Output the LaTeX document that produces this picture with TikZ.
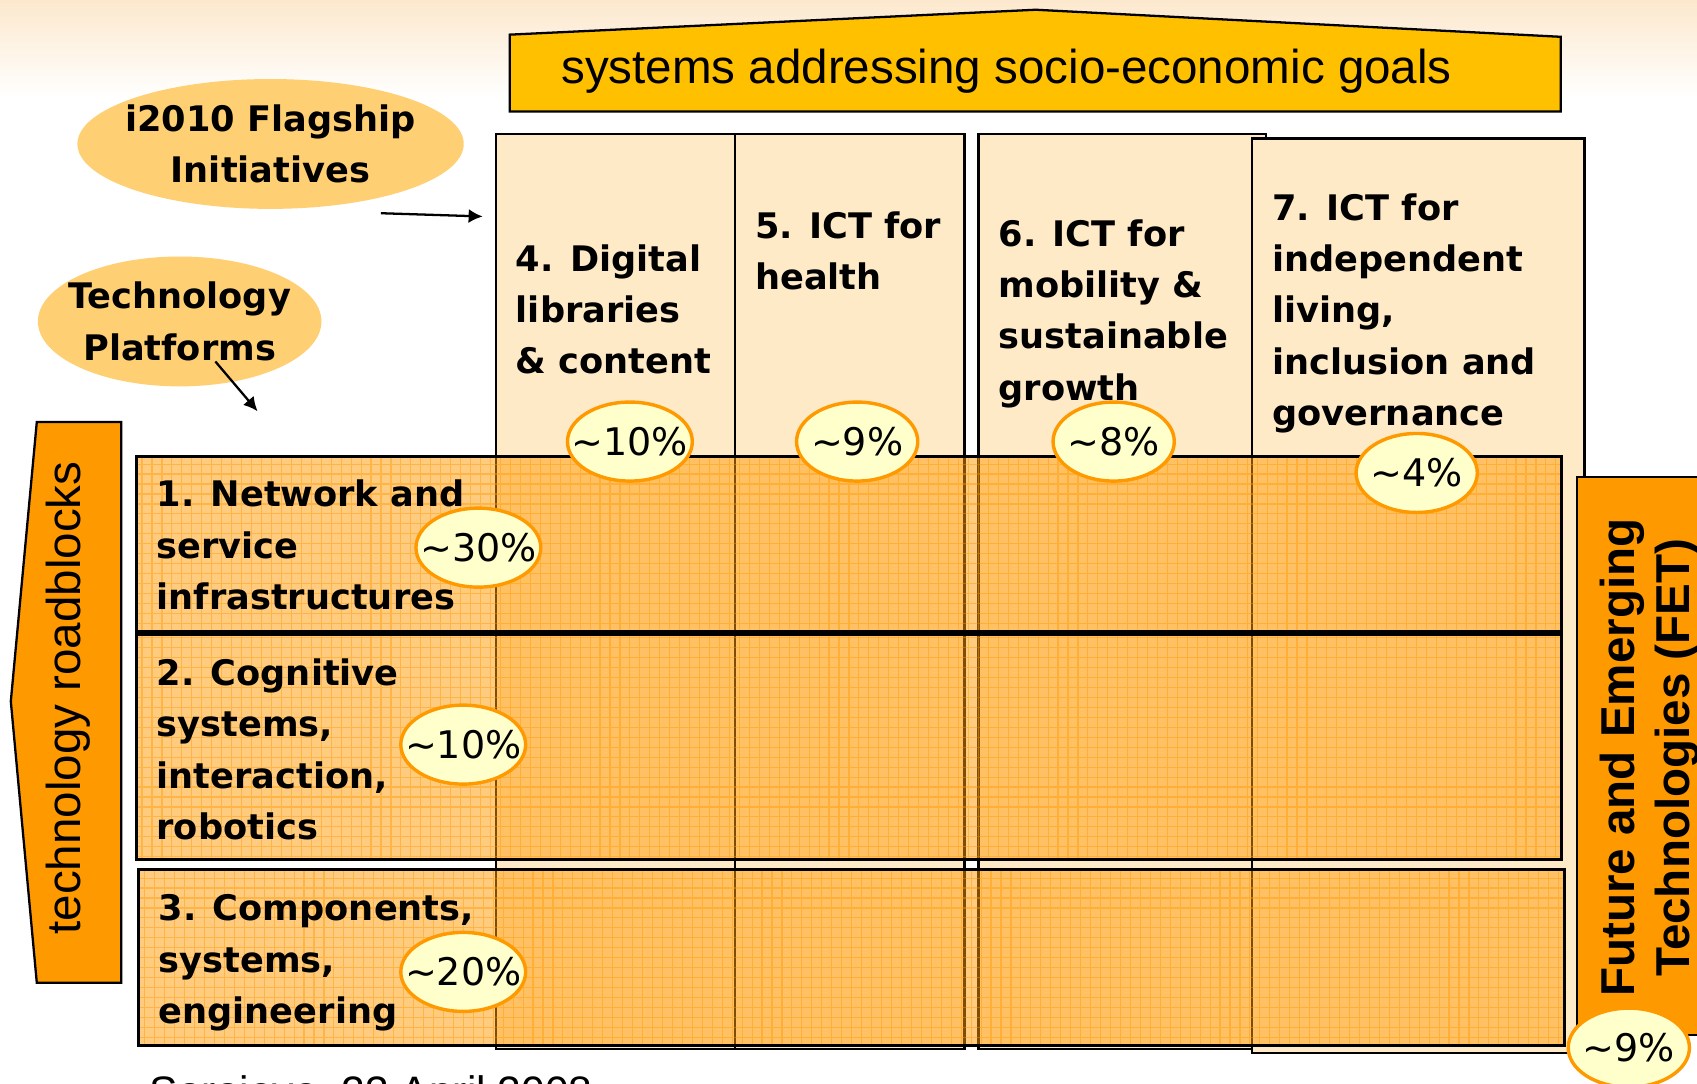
\documentclass[tikz,border=0pt]{standalone}
\usepackage{fontspec}
\setmainfont{Liberation Sans}
\newfontfamily\verd{DejaVu Sans}
\usetikzlibrary{shapes.geometric,arrows.meta}
\definecolor{goldbar}{RGB}{255,192,0}
\definecolor{orangebar}{RGB}{255,153,0}
\definecolor{colpeach}{RGB}{255,234,200}
\definecolor{blobfill}{RGB}{255,208,115}
\definecolor{pctfill}{RGB}{255,255,204}
\definecolor{bgpeach}{RGB}{252,232,205}
\newcommand\pcnt[1]{\textasciitilde#1\%}
\tikzset{
  colbox/.style={draw, fill=colpeach, line width=0.6pt, anchor=north west, inner sep=0pt},
  band/.style={draw, line width=0.8pt, fill=orangebar, fill opacity=0.5, anchor=north west, inner sep=0pt,
    path picture={\draw[orangebar, line width=0.3pt, opacity=0.45, step=0.092]
      (path picture bounding box.south west) grid (path picture bounding box.north east);}},
  head/.style={font=\verd\bfseries\fontsize{9.25}{13.5}\selectfont, align=left, anchor=north west, inner sep=0pt},
  blob/.style={ellipse, fill=blobfill, inner ysep=0pt, align=center,
    font=\verd\bfseries\fontsize{9.25}{13.5}\selectfont},
  pct/.style={ellipse, draw=orangebar, line width=0.9pt, fill=pctfill, minimum width=1.12cm,
    minimum height=0.73cm, inner ysep=0pt, inner xsep=-0.13cm, font=\verd\fontsize{10}{12}\selectfont},
  arr/.style={-{Latex[length=1.3mm,width=1.3mm]}, line width=0.6pt}
}
\begin{document}
\begin{tikzpicture}
  \useasboundingbox (0,0) rectangle (15.68,-10.01);
  \shade[top color=bgpeach, bottom color=white] (0,0) rectangle (15.68,-0.9);
  \draw[fill=goldbar, line width=0.6pt] (4.71,-0.32) -- (9.57,-0.09) -- (14.42,-0.34)
    -- (14.42,-1.03) -- (4.71,-1.03) -- cycle;
  \node[font=\fontsize{12.5}{15}\selectfont] (goals) at (9.30,-0.66) {systems addressing socio-economic goals};
  \node[blob, minimum width=3.55cm, minimum height=1.2cm, inner xsep=-0.08cm] (i2010) at (2.50,-1.33)
    {i2010 Flagship\\Initiatives};
  \node[blob, minimum width=2.62cm, minimum height=1.2cm, inner xsep=-0.12cm] (platforms) at (1.66,-2.97)
    {Technology\\Platforms};
  \coordinate (flagfrom) at (3.52,-1.97);
  \coordinate (flagto) at (4.46,-2.00);
  \coordinate (platfrom) at (1.99,-3.34);
  \coordinate (platto) at (2.38,-3.80);
  \draw[arr] (flagfrom) -- (flagto);
  \draw[arr] (platfrom) -- (platto);
  \foreach \n/\x/\y/\w in {4/4.57/1.23/2.21, 5/6.78/1.23/2.12, 6/9.03/1.23/2.66, 7/11.56/1.27/3.07}
    \node[colbox, minimum width=\w cm, minimum height=8.45cm] (c\n) at (\x,-\y) {};
  \draw[fill=orangebar, line width=0.6pt] (0.34,-3.90) -- (1.12,-3.90) -- (1.12,-9.08)
    -- (0.34,-9.08) -- (0.10,-6.48) -- cycle;
  \node[rotate=90, font=\fontsize{12.5}{15}\selectfont] (roadblocks) at (0.63,-6.45) {technology roadblocks};
  \node[band, minimum width=13.16cm, minimum height=1.62cm] (r1) at (1.25,-4.20) {};
  \node[band, minimum width=13.16cm, minimum height=2.08cm] (r2) at (1.25,-5.85) {};
  \node[band, minimum width=13.17cm, minimum height=1.63cm] (r3) at (1.27,-8.02) {};
  \draw[fill=orangebar, line width=0.6pt] (14.57,-4.41) rectangle (16.2,-9.56);
  \node[rotate=90, align=center, font=\bfseries\fontsize{12.5}{14.5}\selectfont] (fet) at (15.24,-7.0)
    {Future and Emerging\\Technologies (FET)};
  \node[head] (h4) at (4.76,-2.25) {4. Digital\\libraries\\\& content};
  \node[head] (h5) at (6.97,-1.95) {5. ICT for\\health};
  \node[head] (h6) at (9.22,-2.02) {6. ICT for\\mobility \&\\sustainable\\growth};
  \node[head] (h7) at (11.75,-1.78) {7. ICT for\\independent\\living,\\inclusion and\\governance};
  \node[head] (t1) at (1.44,-4.43) {1. Network and\\service\\infrastructures};
  \node[head] (t2) at (1.44,-6.08) {2. Cognitive\\systems,\\interaction,\\robotics};
  \node[head] (t3) at (1.46,-8.26) {3. Components,\\systems,\\engineering};
  \node[pct] (p4) at (5.82,-4.08) {\pcnt{10}};
  \node[pct] (p5) at (7.92,-4.08) {\pcnt{9}};
  \node[pct] (p6) at (10.29,-4.08) {\pcnt{8}};
  \node[pct] (p7) at (13.09,-4.37) {\pcnt{4}};
  \node[pct] (p1) at (4.42,-5.06) {\pcnt{30}};
  \node[pct] (p2) at (4.28,-6.88) {\pcnt{10}};
  \node[pct] (p3) at (4.28,-8.98) {\pcnt{20}};
  \node[pct] (pf) at (15.05,-9.68) {\pcnt{9}};
  \node[anchor=base west, font=\fontsize{11.2}{13}\selectfont] (date) at (1.26,-10.22) {Sarajevo, 23 April 2008};
\end{tikzpicture}
\end{document}
